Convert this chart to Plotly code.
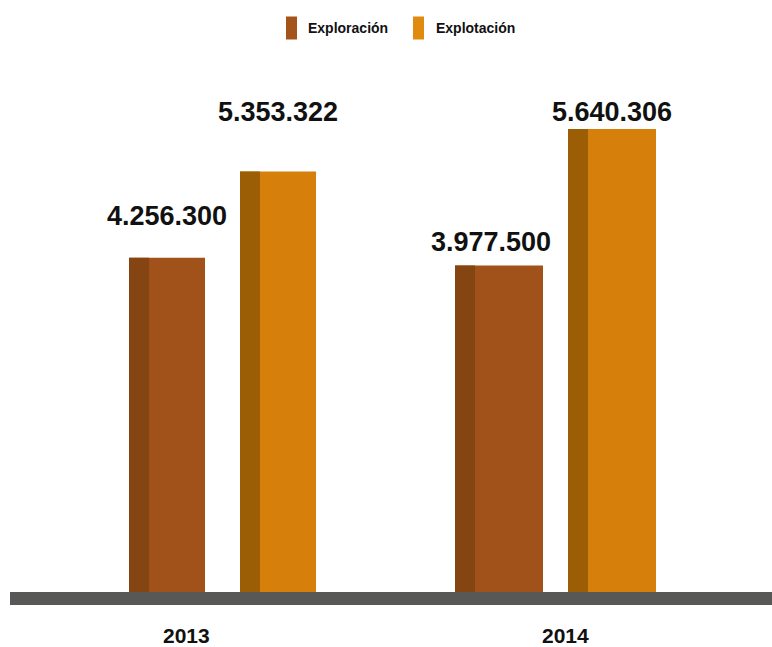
import plotly.graph_objects as go

# ---- data ----
years = ["2013", "2014"]
series_names = ["Exploración", "Explotación"]
exploracion = [4256300, 3977500]
explotacion = [5353322, 5640306]
labels_exploracion = ["4.256.300", "3.977.500"]
labels_explotacion = ["5.353.322", "5.640.306"]

# ---- styling / layout constants ----
W, H = 772, 647
FONT = "Liberation Sans, Arial, sans-serif"
main_colors = ["#A0521A", "#D67F0A"]
dark_colors = ["#844512", "#9C5E04"]
legend_colors = ["#A4541A", "#E08A0F"]
base_color = "#585856"

x_range = [-0.4908, 1.5462]
u = W / (x_range[1] - x_range[0])        # px per x unit
bar_px = [76, 88]                       # bar width per year
off_px = [[-57, 54], [-110, 3]]         # left-edge offsets (px) per year, per series
strip_px = 20
y_ranges = [[-700190, 7536600], [-670160, 7213340]]
label_lift = [[41.5, 59.2], [24, 17.3]]  # px above bar top (text centre)
label_dx = [[0, 0], [-8, 0]]


def px_x(p):
    return p / W


def px_y(p):
    return 1 - p / H


values = [exploracion, explotacion]
labels = [labels_exploracion, labels_explotacion]

fig = go.Figure()
annotations = []
for i, yr in enumerate(years):
    axis = "y" if i == 0 else "y2"
    for s, name in enumerate(series_names):
        off = off_px[i][s] / u
        w = bar_px[i] / u
        v = values[s][i]
        fig.add_trace(go.Bar(
            x=[i], y=[v], offset=off, width=w, name=name,
            marker=dict(color=main_colors[s], line=dict(width=0)),
            yaxis=axis, showlegend=False, hoverinfo="skip"))
        fig.add_trace(go.Bar(
            x=[i], y=[v], offset=off, width=strip_px / u, name=name,
            marker=dict(color=dark_colors[s], line=dict(width=0)),
            yaxis=axis, showlegend=False, hoverinfo="skip"))
        annotations.append(dict(
            x=i + off + w / 2, y=v, xref="x", yref=axis,
            text=labels[s][i], showarrow=False, yanchor="middle", xanchor="center",
            yshift=label_lift[i][s], xshift=label_dx[i][s],
            font=dict(family=FONT, size=27, color="#111111", weight="bold")))

# year labels
year_px = [(186, 635.5), (565, 635.5)]
for i, yr in enumerate(years):
    annotations.append(dict(
        x=i, y=px_y(year_px[i][1]), xref="x", yref="paper", text=yr,
        showarrow=False, xanchor="center", yanchor="middle", borderpad=0,
        font=dict(family=FONT, size=21, color="#111111", weight="bold")))

# custom legend
shapes = []
leg_marker_x = [286, 413]
leg_text_x = [306, 434]
for s, name in enumerate(series_names):
    shapes.append(dict(type="rect", xref="paper", yref="paper",
                       x0=px_x(leg_marker_x[s]), x1=px_x(leg_marker_x[s] + 11),
                       y0=px_y(39.5), y1=px_y(16.5),
                       fillcolor=legend_colors[s], line=dict(width=0)))
    annotations.append(dict(
        x=px_x(leg_text_x[s]), y=px_y(27.5), xref="paper", yref="paper",
        text=name, showarrow=False, xanchor="left", yanchor="middle",
        font=dict(family=FONT, size=14, color="#111111", weight="bold")))

# base platform
shapes.append(dict(type="rect", xref="paper", yref="paper", layer="below",
                   x0=px_x(10), x1=1, y0=px_y(605), y1=px_y(592),
                   fillcolor=base_color, line=dict(width=0)))

fig.update_layout(
    width=W, height=H, margin=dict(l=0, r=0, t=0, b=0),
    paper_bgcolor="white", plot_bgcolor="white",
    barmode="overlay", showlegend=False,
    xaxis=dict(range=x_range, visible=False, fixedrange=True),
    yaxis=dict(range=y_ranges[0], visible=False, fixedrange=True),
    yaxis2=dict(range=y_ranges[1], visible=False, overlaying="y", fixedrange=True),
    annotations=annotations, shapes=shapes,
)

fig.write_html("out.html")
